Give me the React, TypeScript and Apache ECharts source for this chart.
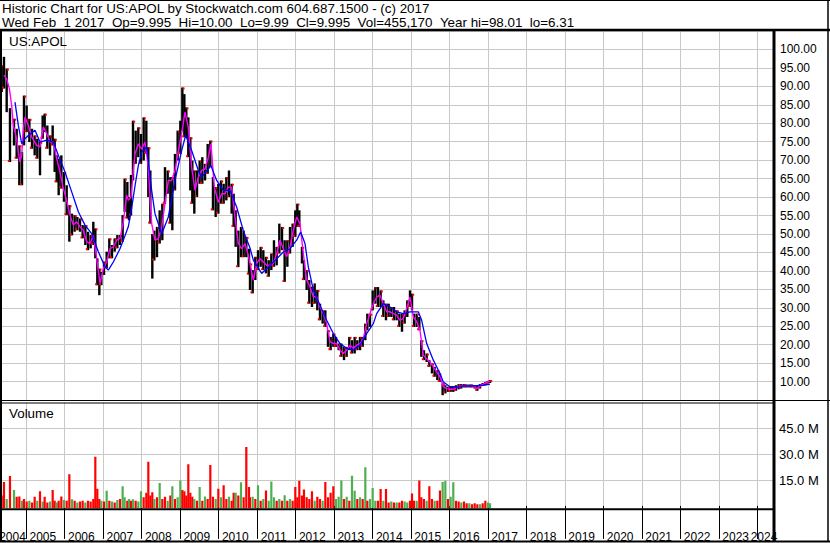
import React, { useEffect, useRef } from 'react';
import * as echarts from 'echarts';

// ---- Data (dates as decimal years) ----
const barDates = [
  2004.368, 2004.428, 2004.498, 2004.584, 2004.688, 2004.758, 2004.827, 2004.896, 2004.948, 2005.017,
  2005.087, 2005.156, 2005.225, 2005.294, 2005.364, 2005.433, 2005.485, 2005.554, 2005.624, 2005.693,
  2005.745, 2005.797, 2005.849, 2005.918, 2005.987, 2006.057, 2006.126, 2006.195, 2006.264, 2006.334,
  2006.403, 2006.472, 2006.542, 2006.611, 2006.680, 2006.749, 2006.801, 2006.853, 2006.905, 2006.957,
  2007.027, 2007.096, 2007.165, 2007.234, 2007.304, 2007.373, 2007.442, 2007.511, 2007.563, 2007.633,
  2007.676, 2007.728, 2007.780, 2007.849, 2007.918, 2007.988, 2008.057, 2008.126, 2008.178, 2008.230,
  2008.282, 2008.334, 2008.403, 2008.473, 2008.542, 2008.611, 2008.681, 2008.750, 2008.802, 2008.871,
  2008.940, 2009.010, 2009.062, 2009.114, 2009.165, 2009.217, 2009.269, 2009.321, 2009.373, 2009.443,
  2009.512, 2009.581, 2009.651, 2009.720, 2009.789, 2009.858, 2009.928, 2009.997, 2010.066, 2010.135,
  2010.205, 2010.274, 2010.343, 2010.395, 2010.447, 2010.516, 2010.586, 2010.655, 2010.724, 2010.794,
  2010.820, 2010.889, 2010.958, 2011.028, 2011.097, 2011.166, 2011.235, 2011.305, 2011.374, 2011.443,
  2011.513, 2011.582, 2011.651, 2011.720, 2011.790, 2011.859, 2011.928, 2011.997, 2012.049, 2012.101,
  2012.170, 2012.222, 2012.292, 2012.361, 2012.430, 2012.500, 2012.569, 2012.638, 2012.707, 2012.777,
  2012.846, 2012.915, 2012.985, 2013.054, 2013.123, 2013.193, 2013.262, 2013.331, 2013.400, 2013.470,
  2013.539, 2013.608, 2013.678, 2013.747, 2013.816, 2013.868, 2013.937, 2014.007, 2014.076, 2014.145,
  2014.214, 2014.284, 2014.353, 2014.422, 2014.492, 2014.561, 2014.630, 2014.700, 2014.769, 2014.838,
  2014.907, 2014.977, 2015.029, 2015.081, 2015.150, 2015.219, 2015.271, 2015.340, 2015.410, 2015.479,
  2015.548, 2015.617, 2015.687, 2015.756, 2015.825, 2015.895, 2015.964, 2016.033, 2016.102, 2016.172,
  2016.241, 2016.310, 2016.380, 2016.449, 2016.518, 2016.588, 2016.657, 2016.726, 2016.795, 2016.865,
  2016.934, 2017.003, 2017.055,
];

const barHigh = [
  95.7, 98.0, 94.8, 84.1, 81.2, 78.5, 74.0, 72.2, 87.5, 84.8,
  81.2, 78.5, 76.7, 75.8, 74.9, 82.1, 82.6, 79.4, 76.7, 79.4,
  75.8, 71.3, 70.4, 71.3, 66.8, 63.2, 57.8, 55.5, 55.1, 54.6,
  54.2, 52.4, 52.4, 50.6, 49.7, 53.3, 51.5, 43.4, 40.6, 39.7,
  42.5, 45.2, 48.8, 47.0, 48.8, 49.7, 49.7, 55.1, 65.0, 64.1,
  60.0, 66.0, 80.7, 78.0, 78.9, 77.1, 81.6, 80.7, 73.5, 67.2,
  50.0, 50.9, 51.9, 56.4, 58.2, 68.1, 67.2, 65.4, 65.4, 71.7,
  78.0, 80.7, 89.7, 87.9, 84.3, 81.6, 76.2, 69.9, 67.2, 67.2,
  69.9, 70.8, 69.0, 74.4, 75.3, 65.4, 62.7, 63.6, 64.5, 63.6,
  65.4, 67.2, 63.6, 60.9, 56.4, 50.9, 51.9, 50.9, 49.2, 46.0,
  42.0, 40.2, 43.8, 45.6, 46.5, 45.6, 43.8, 42.9, 44.7, 48.3,
  46.5, 52.8, 51.9, 48.3, 48.3, 51.9, 52.8, 56.4, 58.2, 56.4,
  46.5, 42.9, 40.2, 37.5, 35.7, 36.6, 34.8, 31.1, 29.3, 29.3,
  23.9, 22.1, 23.0, 22.1, 20.3, 20.3, 19.4, 19.4, 22.1, 21.2,
  22.1, 21.2, 22.1, 22.1, 25.7, 28.4, 28.4, 34.7, 35.6, 35.6,
  34.7, 32.0, 31.1, 31.1, 30.2, 30.2, 29.3, 28.4, 28.4, 29.3,
  32.0, 34.7, 33.8, 28.4, 28.4, 27.5, 21.2, 18.5, 17.6, 15.8,
  14.9, 14.0, 13.1, 12.2, 9.5, 9.0, 8.6, 8.8, 8.8, 9.0,
  9.3, 9.3, 9.3, 9.2, 9.2, 9.2, 9.0, 8.8, 9.3, 9.6,
  9.9, 10.2, 10.4,
];

const barLow = [
  88.5, 89.4, 83.0, 69.5, 74.0, 70.4, 63.2, 63.2, 74.0, 77.6,
  74.9, 73.1, 71.3, 70.4, 65.9, 75.8, 77.6, 73.1, 71.3, 74.0,
  66.8, 64.0, 60.5, 62.3, 58.7, 55.1, 47.9, 49.6, 50.6, 51.0,
  50.6, 48.8, 47.0, 45.6, 46.1, 47.0, 43.4, 36.1, 33.4, 36.1,
  38.9, 40.7, 43.4, 43.4, 45.2, 46.1, 47.0, 47.9, 56.0, 54.2,
  53.7, 55.0, 64.5, 69.0, 70.8, 69.0, 69.9, 71.7, 60.0, 52.8,
  37.9, 42.8, 43.7, 47.4, 48.3, 58.2, 60.9, 52.8, 51.0, 61.8,
  69.9, 71.7, 78.0, 76.2, 76.2, 70.8, 61.8, 58.2, 55.5, 60.0,
  63.6, 63.6, 64.5, 66.3, 68.1, 56.4, 54.6, 55.5, 58.2, 58.2,
  59.1, 60.0, 55.5, 51.9, 46.5, 41.0, 43.7, 43.7, 43.7, 39.0,
  34.8, 33.9, 37.5, 40.2, 41.1, 40.2, 39.3, 38.4, 40.2, 41.1,
  41.5, 44.7, 45.6, 37.0, 41.1, 44.7, 46.5, 49.2, 51.9, 51.9,
  42.0, 37.5, 34.8, 31.1, 30.2, 31.1, 29.3, 26.6, 25.7, 24.8,
  19.4, 18.5, 19.4, 19.4, 18.5, 16.7, 15.8, 16.7, 18.5, 17.6,
  17.6, 18.5, 18.5, 19.4, 21.2, 23.9, 24.8, 29.3, 31.1, 30.2,
  30.2, 27.5, 26.6, 27.5, 27.5, 26.6, 26.6, 24.8, 23.5, 25.7,
  27.5, 30.2, 29.3, 24.8, 24.8, 23.9, 16.7, 15.8, 15.3, 14.0,
  12.2, 11.3, 10.4, 9.9, 6.3, 6.8, 7.2, 7.2, 7.2, 7.5,
  7.9, 8.1, 8.4, 8.4, 8.4, 8.4, 8.1, 7.5, 8.1, 8.8,
  9.0, 9.5, 9.6,
];

// volume in millions of shares
const volume = [
  6, 14, 4, 17.4, 9.2, 5.3, 5.5, 3, 4, 2.5,
  3, 2, 5.3, 3, 8.6, 2.5, 5.3, 2, 2.5, 9.2,
  3, 2, 3, 5.5, 3.4, 3, 18.5, 3.9, 3, 2,
  2.5, 3, 2, 3, 2.5, 4, 28.6, 10, 4, 3,
  2.5, 8.8, 3, 2.5, 2, 3.5, 4, 11.5, 5, 3,
  4, 3, 3.9, 3, 2.5, 8.6, 5, 7.6, 25.7, 6,
  8, 4, 5, 13.4, 4, 5.3, 3, 6, 11.5, 4,
  5, 14.8, 9.2, 8.6, 6, 24.3, 7.6, 5.3, 4, 3,
  11, 3, 5.5, 4, 23.8, 5.3, 4, 10, 5, 12,
  4, 5.3, 3, 7.6, 7.6, 6, 13.8, 5, 34.4, 11,
  5, 5.3, 4, 12, 3, 4, 9, 3, 14.2, 5,
  3, 4, 3, 6.2, 3, 4, 3, 11, 5, 14.6,
  6, 9.6, 5, 4, 8.6, 3, 5.3, 4, 3, 14,
  5, 7.6, 11.5, 4, 5.3, 14.8, 4, 5.3, 3, 17.6,
  8.8, 4, 5, 4, 22.5, 3, 4, 10.4, 3, 3,
  9.8, 3, 9.8, 2, 2.5, 2, 2, 2, 3, 2.5,
  2, 3, 7.2, 3, 3, 14.8, 5, 4, 3, 11.5,
  4, 3, 3, 9, 14, 14.6, 4, 5.3, 13.8, 3,
  2.5, 2, 2.5, 1.5, 1.5, 1, 1.5, 1, 1, 1.5,
  3, 2, 1.5,
];

// 1 = up (green), 0 = down (red)
const volUp = [
  0, 0, 1, 0, 1, 0, 0, 1, 0, 0,
  1, 0, 0, 1, 0, 1, 0, 0, 1, 0,
  0, 1, 0, 0, 1, 0, 0, 1, 0, 1,
  0, 0, 1, 0, 0, 0, 0, 0, 0, 1,
  0, 1, 0, 1, 0, 1, 0, 1, 1, 0,
  1, 0, 1, 0, 1, 1, 0, 0, 0, 0,
  0, 1, 0, 1, 0, 0, 1, 0, 1, 0,
  1, 1, 0, 0, 0, 0, 0, 0, 1, 0,
  1, 0, 1, 0, 0, 0, 1, 0, 1, 0,
  0, 1, 0, 0, 1, 0, 1, 0, 0, 0,
  0, 1, 0, 1, 0, 1, 0, 1, 1, 1,
  0, 1, 0, 1, 0, 1, 0, 0, 0, 0,
  0, 0, 0, 0, 0, 1, 0, 0, 1, 0,
  0, 0, 0, 1, 1, 1, 0, 1, 0, 1,
  1, 0, 1, 0, 1, 0, 1, 1, 1, 0,
  0, 1, 0, 0, 1, 0, 1, 0, 0, 1,
  1, 0, 0, 0, 1, 0, 0, 0, 1, 0,
  0, 1, 0, 0, 1, 1, 0, 1, 1, 0,
  0, 1, 0, 0, 1, 0, 0, 0, 1, 0,
  0, 1, 1,
];

// short moving average (magenta)
const maShortDates = [
  2004.428, 2004.498, 2004.567, 2004.628, 2004.671, 2004.758, 2004.801, 2004.844, 2004.888, 2004.931,
  2004.974, 2005.061, 2005.147, 2005.277, 2005.364, 2005.450, 2005.537, 2005.624, 2005.710, 2005.797,
  2005.883, 2005.970, 2006.057, 2006.143, 2006.230, 2006.317, 2006.403, 2006.490, 2006.576, 2006.663,
  2006.749, 2006.836, 2006.923, 2007.009, 2007.096, 2007.182, 2007.269, 2007.356, 2007.442, 2007.529,
  2007.615, 2007.659, 2007.728, 2007.789, 2007.832, 2007.918, 2008.005, 2008.092, 2008.178, 2008.222,
  2008.265, 2008.351, 2008.438, 2008.525, 2008.611, 2008.698, 2008.785, 2008.871, 2008.958, 2009.044,
  2009.131, 2009.217, 2009.304, 2009.391, 2009.477, 2009.564, 2009.651, 2009.737, 2009.806, 2009.893,
  2009.997, 2010.084, 2010.170, 2010.257, 2010.343, 2010.430, 2010.516, 2010.603, 2010.690, 2010.776,
  2010.906, 2010.993, 2011.079, 2011.166, 2011.253, 2011.339, 2011.426, 2011.513, 2011.599, 2011.686,
  2011.772, 2011.859, 2011.945, 2012.032, 2012.119, 2012.205, 2012.292, 2012.378, 2012.465, 2012.552,
  2012.638, 2012.725, 2012.811, 2012.898, 2012.985, 2013.071, 2013.158, 2013.244, 2013.331, 2013.418,
  2013.504, 2013.591, 2013.678, 2013.764, 2013.851, 2013.937, 2014.024, 2014.111, 2014.197, 2014.284,
  2014.371, 2014.457, 2014.544, 2014.630, 2014.717, 2014.803, 2014.890, 2014.977, 2015.063, 2015.150,
  2015.236, 2015.323, 2015.410, 2015.496, 2015.583, 2015.669, 2015.756, 2015.843, 2015.929, 2016.016,
  2016.102, 2016.189, 2016.276, 2016.449, 2016.622, 2016.709, 2016.795, 2016.882, 2016.968, 2017.055,
];
const maShortVals = [
  93.0, 92.0, 89.4, 84.8, 79.4, 75.8, 72.2, 69.5, 71.3, 78.5,
  81.7, 79.4, 76.3, 74.0, 73.6, 79.0, 77.2, 74.9, 74.9, 70.4,
  66.8, 62.3, 59.1, 55.1, 52.4, 53.3, 51.9, 51.0, 47.9, 47.4,
  49.6, 43.4, 36.6, 40.6, 42.4, 46.0, 46.5, 48.3, 48.8, 53.3,
  60.5, 59.1, 60.0, 67.2, 71.7, 74.4, 73.0, 74.9, 68.1, 60.0,
  52.8, 48.3, 48.7, 51.9, 58.2, 64.5, 64.5, 67.2, 72.6, 77.1,
  83.0, 78.9, 68.1, 61.8, 65.4, 67.2, 67.6, 70.8, 74.4, 62.7,
  58.6, 60.9, 60.9, 62.7, 62.7, 54.6, 47.4, 46.0, 47.4, 44.2,
  37.5, 42.0, 43.3, 42.4, 41.5, 41.5, 42.0, 44.7, 48.3, 46.0,
  43.8, 46.5, 51.0, 54.6, 52.8, 44.7, 37.5, 35.7, 33.0, 33.0,
  30.2, 28.4, 25.7, 20.8, 20.3, 20.3, 18.5, 17.6, 18.5, 19.9,
  19.0, 19.9, 20.3, 21.7, 25.7, 28.4, 31.1, 32.9, 33.4, 31.1,
  28.9, 28.9, 28.4, 28.0, 26.6, 27.1, 29.8, 32.9, 27.5, 26.2,
  23.9, 17.1, 16.2, 15.3, 14.0, 12.6, 11.3, 8.6, 8.1, 7.9,
  7.9, 8.4, 8.8, 8.8, 8.8, 8.1, 8.6, 9.3, 9.8, 10.0,
];

// long moving average (blue)
const maLongDates = [
  2004.714, 2004.801, 2004.888, 2004.974, 2005.061, 2005.234, 2005.364, 2005.537, 2005.710, 2005.840,
  2006.013, 2006.187, 2006.360, 2006.533, 2006.706, 2006.879, 2007.052, 2007.139, 2007.269, 2007.442,
  2007.572, 2007.659, 2007.745, 2007.832, 2007.918, 2008.005, 2008.135, 2008.265, 2008.351, 2008.525,
  2008.698, 2008.871, 2009.044, 2009.148, 2009.304, 2009.477, 2009.564, 2009.737, 2009.806, 2009.954,
  2010.127, 2010.300, 2010.473, 2010.646, 2010.820, 2010.906, 2011.123, 2011.339, 2011.513, 2011.686,
  2011.859, 2012.032, 2012.136, 2012.249, 2012.335, 2012.465, 2012.638, 2012.811, 2012.985, 2013.158,
  2013.331, 2013.504, 2013.678, 2013.851, 2014.024, 2014.111, 2014.284, 2014.457, 2014.630, 2014.803,
  2014.977, 2015.193, 2015.280, 2015.410, 2015.583, 2015.756, 2015.843, 2016.016, 2016.189, 2016.362,
  2016.535, 2016.709, 2016.882, 2017.055,
];
const maLongVals = [
  85.7, 79.4, 74.5, 75.8, 76.7, 78.1, 74.9, 75.4, 74.9, 71.3,
  66.8, 61.4, 56.0, 52.4, 50.1, 45.2, 41.1, 40.2, 42.4, 46.0,
  49.5, 52.0, 57.0, 63.0, 68.5, 72.2, 73.5, 61.8, 55.5, 50.0,
  54.6, 64.5, 72.6, 76.7, 72.6, 67.2, 65.4, 67.6, 68.5, 64.5,
  61.8, 61.8, 57.3, 50.9, 46.2, 42.9, 39.3, 41.5, 43.3, 45.1,
  46.0, 48.3, 50.5, 47.4, 41.1, 34.8, 30.7, 26.6, 23.0, 20.3,
  19.0, 18.5, 19.9, 23.0, 25.7, 28.4, 31.1, 30.2, 28.9, 28.4,
  28.9, 28.9, 26.6, 20.3, 15.8, 12.2, 9.9, 8.6, 8.4, 8.8,
  8.8, 8.9, 9.0, 9.3,
];

const yearBounds = [
  2005, 2006, 2007, 2008, 2009, 2010, 2011, 2012, 2013, 2014,
  2015, 2016, 2017, 2018, 2019, 2020, 2021, 2022, 2023, 2024,
];
const yearLabels = [
  '2004', '2005', '2006', '2007', '2008', '2009', '2010', '2011', '2012', '2013', '2014',
  '2015', '2016', '2017', '2018', '2019', '2020', '2021', '2022', '2023', '2024',
];
const volTicks = [15, 30, 45];

const NB = '\u00a0';
const headerLine1 = 'Historic Chart for US:APOL by Stockwatch.com 604.687.1500 - (c) 2017';
const headerLine2 =
  `Wed Feb ${NB}1 2017 ${NB}Op=9.995 ${NB}Hi=10.00 ${NB}Lo=9.99 ${NB}Cl=9.995 ${NB}Vol=455,170 ${NB}Year hi=98.01 ${NB}lo=6.31`;

const X_MIN = 2004.3245;
const X_MAX = 2024.408;
const FONT = '"Liberation Sans", Arial, sans-serif';
const GRID_COLOR = '#c8c8c8';

export default function App() {
  const ref = useRef<HTMLDivElement>(null);

  useEffect(() => {
    document.body.style.margin = '0';
    const chart = echarts.init(ref.current!, undefined, { renderer: 'svg' });

    const labelPos = yearLabels.map((y, i) => {
      if (i === 0) return 2004.649;
      if (i === yearLabels.length - 1) return 2024.174;
      return Number(y) + 0.437;
    });

    const priceData = barDates.map((d, i) => [d, barHigh[i], barLow[i]]);
    const volData = barDates.map((d, i) => [d, volume[i], volUp[i]]);

    const line = (x1: number, y1: number, x2: number, y2: number, w: number) => ({
      type: 'line',
      z: 100,
      silent: true,
      shape: { x1, y1, x2, y2 },
      style: { stroke: '#000', lineWidth: w },
    });
    const text = (t: string, x: number, y: number, size: number) => ({
      type: 'text',
      z: 100,
      silent: true,
      style: { text: t, x, y, fill: '#000', fontSize: size, fontFamily: FONT, verticalAlign: 'middle', align: 'left' },
    });

    const option: any = {
      animation: false,
      backgroundColor: '#ffffff',
      grid: [
        { left: 0, top: 31, width: 773, height: 369, outerBoundsMode: 'none', containLabel: false },
        { left: 0, top: 402.5, width: 773, height: 105.8, outerBoundsMode: 'none', containLabel: false },
      ],
      xAxis: [
        {
          gridIndex: 0, type: 'value', min: X_MIN, max: X_MAX,
          axisLine: { show: false },
          axisTick: { show: false, customValues: yearBounds },
          axisLabel: { show: false },
          splitLine: { show: true, lineStyle: { color: GRID_COLOR, width: 1 } },
        },
        {
          gridIndex: 1, type: 'value', min: X_MIN, max: X_MAX,
          axisLine: { show: false },
          axisTick: { show: true, customValues: yearBounds, length: 33, inside: false, lineStyle: { color: '#000', width: 1 } },
          axisLabel: {
            show: true, customValues: labelPos, margin: 23, color: '#000', fontSize: 12, fontFamily: FONT,
            formatter: (v: number) => String(Math.floor(v + 1e-6)),
          },
          splitLine: { show: true, lineStyle: { color: GRID_COLOR, width: 1 } },
        },
      ],
      yAxis: [
        {
          gridIndex: 0, type: 'value', position: 'right', min: 5, max: 105, interval: 5,
          axisLine: { show: false }, axisTick: { show: false },
          axisLabel: {
            margin: 7, color: '#000', fontSize: 12, fontFamily: FONT, align: 'left',
            formatter: (v: number) => (v <= 5 || v >= 105 ? '' : v.toFixed(2)),
          },
          splitLine: { show: true, lineStyle: { color: GRID_COLOR, width: 1 } },
        },
        {
          gridIndex: 1, type: 'value', position: 'right', min: -1.4, max: 60.3,
          axisLine: { show: false },
          axisTick: { show: false, customValues: volTicks },
          axisLabel: {
            customValues: volTicks, margin: 6, color: '#000', fontSize: 13, fontFamily: FONT, align: 'left',
            formatter: (v: number) => v.toFixed(1) + ' M',
          },
          splitLine: { show: true, lineStyle: { color: GRID_COLOR, width: 1 } },
        },
      ],
      series: [
        {
          type: 'custom', name: 'Price', xAxisIndex: 0, yAxisIndex: 0, clip: true, z: 2,
          encode: { x: 0, y: [1, 2] },
          data: priceData,
          renderItem: (params: any, api: any) => {
            const x = api.value(0);
            const top = api.coord([x, api.value(1)]);
            const bot = api.coord([x, api.value(2)]);
            const w = 2.4;
            const odd = params.dataIndex % 2 === 1;
            return {
              type: 'group',
              children: [
                { type: 'rect', shape: { x: top[0] - w / 2, y: top[1], width: w, height: Math.max(1, bot[1] - top[1]) }, style: { fill: '#000' } },
                {
                  type: 'rect',
                  shape: { x: odd ? top[0] - w / 2 - 1 : top[0] + w / 2 - 1, y: odd ? bot[1] - 2 : top[1], width: 2, height: 2 },
                  style: { fill: '#ff0000' },
                },
              ],
            };
          },
        },
        {
          type: 'line', name: 'MA short', xAxisIndex: 0, yAxisIndex: 0, z: 3,
          data: maShortDates.map((d, i) => [d, maShortVals[i]]),
          symbol: 'none', lineStyle: { color: '#ff00ff', width: 1.4 },
        },
        {
          type: 'line', name: 'MA long', xAxisIndex: 0, yAxisIndex: 0, z: 4,
          data: maLongDates.map((d, i) => [d, maLongVals[i]]),
          symbol: 'none', lineStyle: { color: '#0000ff', width: 1.3 },
        },
        {
          type: 'custom', name: 'Volume', xAxisIndex: 1, yAxisIndex: 1, clip: true, z: 2,
          encode: { x: 0, y: 1 },
          data: volData,
          renderItem: (params: any, api: any) => {
            const p = api.coord([api.value(0), api.value(1)]);
            const cs = params.coordSys;
            const bottom = cs.y + cs.height;
            return {
              type: 'rect',
              shape: { x: p[0] - 1.1, y: p[1], width: 2.2, height: bottom - p[1] },
              style: { fill: api.value(2) ? '#4caf50' : '#ff0000' },
            };
          },
        },
      ],
      graphic: [
        line(0, 0.5, 830, 0.5, 1),
        line(0, 30, 830, 30, 2.5),
        line(1, 30, 1, 542, 2),
        line(828, 0, 828, 542, 1.5),
        line(774, 30, 774, 542, 3),
        line(0, 400.5, 830, 400.5, 1),
        line(0, 403, 774, 403, 1),
        line(0, 509.3, 774, 509.3, 2),
        line(0, 541.5, 830, 541.5, 2),
        text(headerLine1, 2, 8.5, 13.4),
        text(headerLine2, 2, 22.5, 13.4),
        text('US:APOL', 9, 41.5, 13.4),
        text('Volume', 9, 413, 13.4),
      ],
    };

    chart.setOption(option);
    return () => chart.dispose();
  }, []);

  return <div ref={ref} style={{ position: 'absolute', left: 0, top: 0, width: 830, height: 543 }} />;
}
